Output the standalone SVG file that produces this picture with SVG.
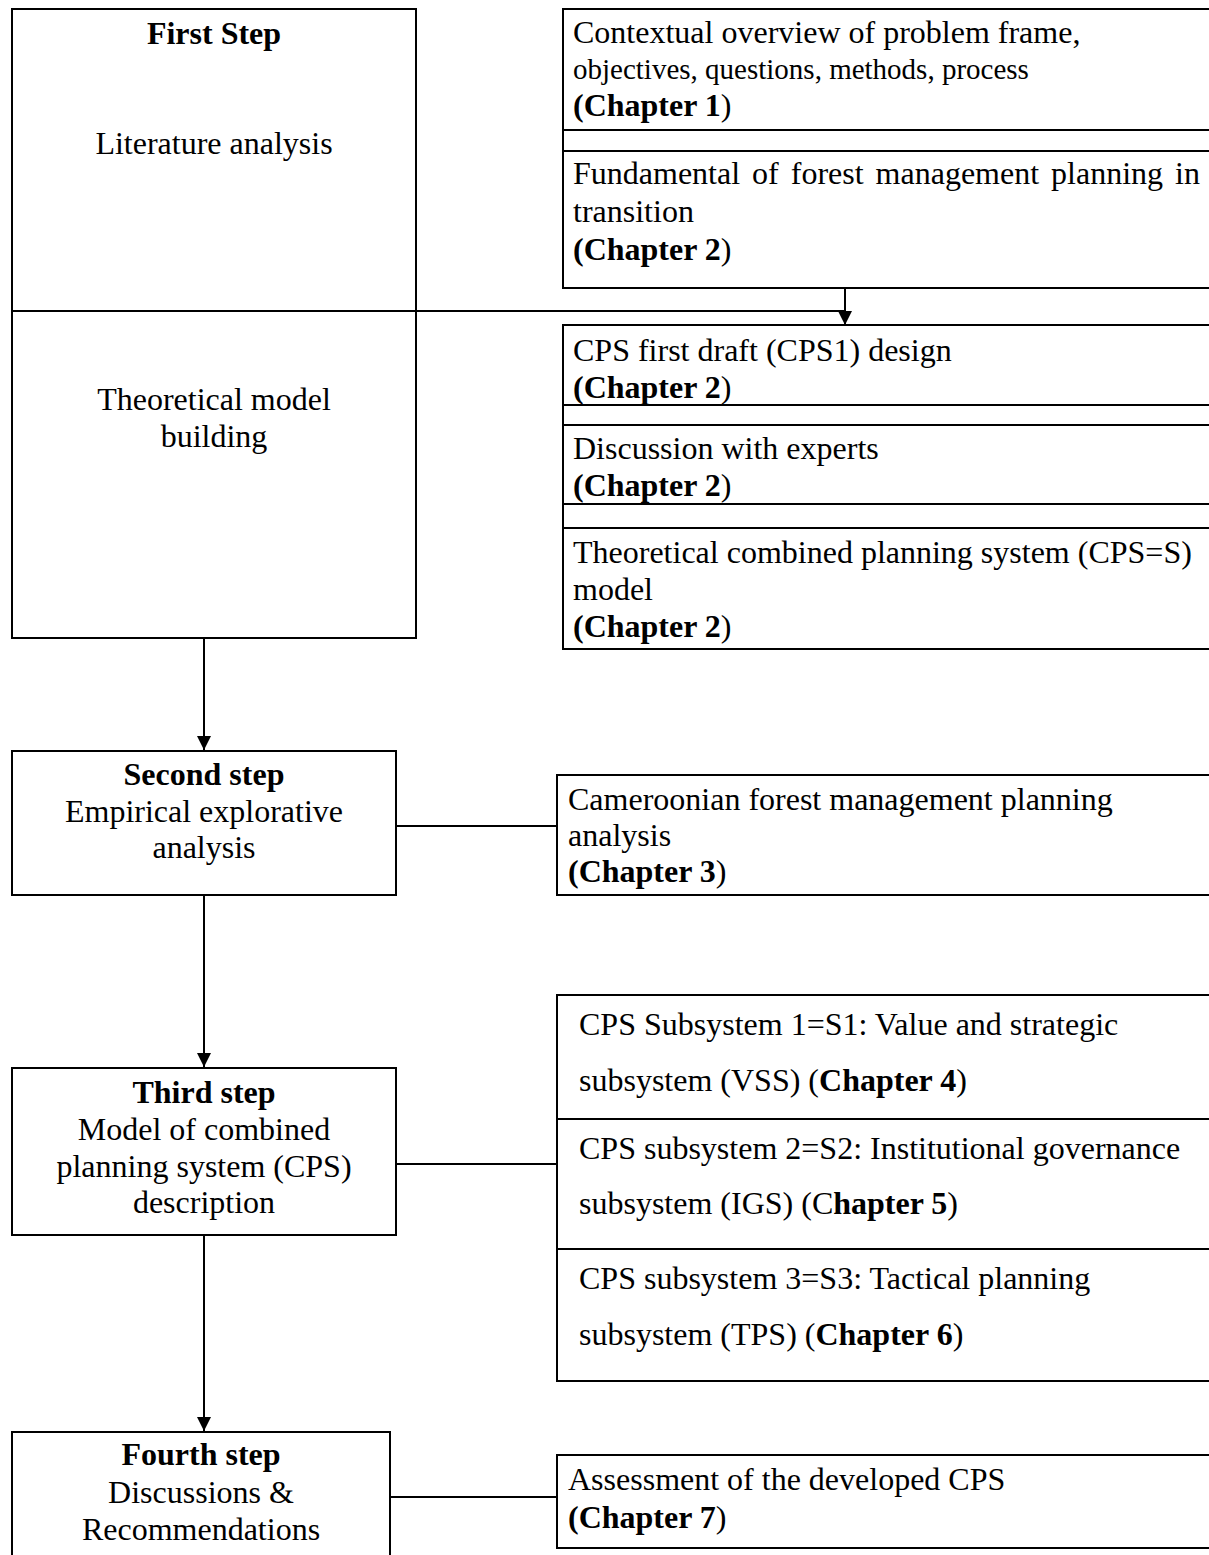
<svg xmlns="http://www.w3.org/2000/svg" width="1209" height="1555" viewBox="0 0 1209 1555">
  <style>
    .box { fill: #ffffff; stroke: #000000; stroke-width: 2; }
    .rule { stroke: #000000; stroke-width: 2; fill: none; }
    .conn { stroke: #000000; stroke-width: 2; fill: none; }
    text { font-family: "Liberation Serif", "Times New Roman", serif; font-size: 32px; fill: #000000; }
    .c { text-anchor: middle; }
    .b { font-weight: bold; }
    .sm { font-size: 29px; }
  </style>
  <defs>
    <marker id="arrow" viewBox="0 0 14 14" refX="14" refY="7" markerWidth="14" markerHeight="14" markerUnits="userSpaceOnUse" orient="auto">
      <path d="M0,0 L14,7 L0,14 Z" fill="#000000"/>
    </marker>
    <clipPath id="clipRowA"><rect x="563" y="326" width="660" height="79"/></clipPath>
    <clipPath id="clipRowB"><rect x="563" y="426" width="660" height="77"/></clipPath>
  </defs>

  <!-- Step 1: literature analysis and theoretical model building -->
  <g id="step1">
    <rect class="box" x="12" y="9" width="404" height="629"/>
    <text class="c b" x="214" y="44">First Step</text>
    <text class="c" x="214" y="154">Literature analysis</text>
    <text class="c" x="214" y="410">Theoretical model</text>
    <text class="c" x="214" y="447">building</text>
  </g>

  <!-- Chapters 1 and 2 (background) -->
  <g id="ch1-2">
    <rect class="box" x="563" y="9" width="660" height="279"/>
    <line class="rule" x1="563" y1="130" x2="1215" y2="130"/>
    <line class="rule" x1="563" y1="151" x2="1215" y2="151"/>
    <text x="573" y="43">Contextual overview of problem frame,</text>
    <text class="sm" x="573" y="79">objectives, questions, methods, process</text>
    <text x="573" y="116"><tspan class="b">(Chapter 1</tspan>)</text>
    <text x="573" y="184" word-spacing="4">Fundamental of forest management planning in</text>
    <text x="573" y="222">transition</text>
    <text x="573" y="260"><tspan class="b">(Chapter 2</tspan>)</text>
  </g>

  <!-- Chapter 2 model building rows -->
  <g id="ch2-model">
    <rect class="box" x="563" y="325" width="660" height="324"/>
    <g clip-path="url(#clipRowA)">
      <text x="573" y="361">CPS first draft (CPS1) design</text>
      <text x="573" y="398"><tspan class="b">(Chapter 2</tspan>)</text>
    </g>
    <g clip-path="url(#clipRowB)">
      <text x="573" y="459">Discussion with experts</text>
      <text x="573" y="496"><tspan class="b">(Chapter 2</tspan>)</text>
    </g>
    <line class="rule" x1="563" y1="405" x2="1215" y2="405"/>
    <line class="rule" x1="563" y1="425" x2="1215" y2="425"/>
    <line class="rule" x1="563" y1="504" x2="1215" y2="504"/>
    <line class="rule" x1="563" y1="528" x2="1215" y2="528"/>
    <text x="573" y="563">Theoretical combined planning system (CPS=S)</text>
    <text x="573" y="600">model</text>
    <text x="573" y="637"><tspan class="b">(Chapter 2</tspan>)</text>
  </g>

  <!-- Step 2 -->
  <g id="step2">
    <rect class="box" x="12" y="751" width="384" height="144"/>
    <text class="c b" x="204" y="785">Second step</text>
    <text class="c" x="204" y="822">Empirical explorative</text>
    <text class="c" x="204" y="858">analysis</text>
  </g>

  <g id="ch3">
    <rect class="box" x="557" y="775" width="666" height="120"/>
    <text x="568" y="810">Cameroonian forest management planning</text>
    <text x="568" y="846">analysis</text>
    <text x="568" y="882"><tspan class="b">(Chapter 3</tspan>)</text>
  </g>

  <!-- Step 3 -->
  <g id="step3">
    <rect class="box" x="12" y="1068" width="384" height="167"/>
    <text class="c b" x="204" y="1103">Third step</text>
    <text class="c" x="204" y="1140">Model of combined</text>
    <text class="c" x="204" y="1177">planning system (CPS)</text>
    <text class="c" x="204" y="1213">description</text>
  </g>

  <g id="ch4-6">
    <rect class="box" x="557" y="995" width="666" height="386"/>
    <line class="rule" x1="557" y1="1119" x2="1215" y2="1119"/>
    <line class="rule" x1="557" y1="1249" x2="1215" y2="1249"/>
    <text x="579" y="1035">CPS Subsystem 1=S1: Value and strategic</text>
    <text x="579" y="1091">subsystem (VSS) (<tspan class="b">Chapter 4</tspan>)</text>
    <text x="579" y="1159">CPS subsystem 2=S2: Institutional governance</text>
    <text x="579" y="1214">subsystem (IGS) (C<tspan class="b">hapter 5</tspan>)</text>
    <text x="579" y="1289">CPS subsystem 3=S3: Tactical planning</text>
    <text x="579" y="1345">subsystem (TPS) (<tspan class="b">Chapter 6</tspan>)</text>
  </g>

  <!-- Step 4 -->
  <g id="step4">
    <rect class="box" x="12" y="1432" width="378" height="140"/>
    <text class="c b" x="201" y="1465">Fourth step</text>
    <text class="c" x="201" y="1503">Discussions &amp;</text>
    <text class="c" x="201" y="1540">Recommendations</text>
  </g>

  <g id="ch7">
    <rect class="box" x="557" y="1455" width="666" height="93"/>
    <text x="568" y="1490">Assessment of the developed CPS</text>
    <text x="568" y="1528"><tspan class="b">(Chapter 7</tspan>)</text>
  </g>

  <!-- Connectors -->
  <g id="connectors">
    <line class="rule" x1="12" y1="311" x2="416" y2="311"/>
    <path class="conn" d="M416,311 H845"/>
    <path class="conn" d="M845,288 V325" marker-end="url(#arrow)"/>
    <path class="conn" d="M204,638 V750" marker-end="url(#arrow)"/>
    <path class="conn" d="M204,895 V1067" marker-end="url(#arrow)"/>
    <path class="conn" d="M204,1235 V1431" marker-end="url(#arrow)"/>
    <path class="conn" d="M396,826 H557"/>
    <path class="conn" d="M396,1164 H557"/>
    <path class="conn" d="M390,1497 H557"/>
  </g>
</svg>
